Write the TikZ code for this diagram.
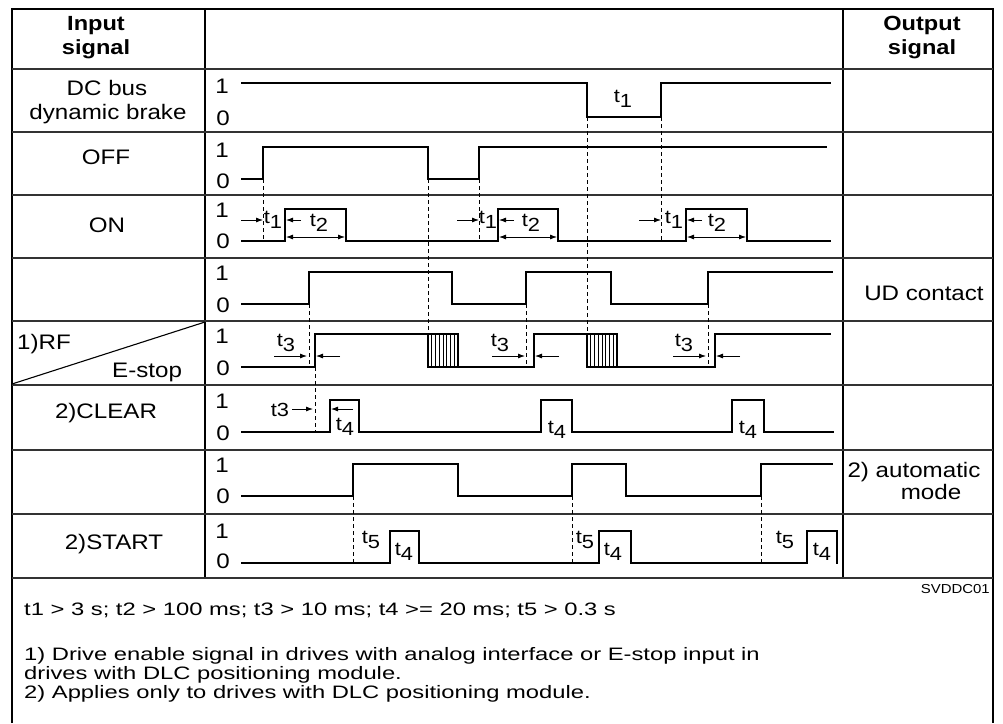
\documentclass[tikz,border=0pt]{standalone}
\usepackage{fontspec}
\setmainfont{Liberation Sans}[FakeStretch=1.15]
\newfontfamily\notefont{Liberation Sans}[FakeStretch=1.32]
\usetikzlibrary{arrows.meta}
\newcommand{\tsub}[2]{t\raisebox{-5pt}{#1}}
\begin{document}
\begin{tikzpicture}[x=1pt,y=-1pt,
  frame/.style={line width=2.5pt},
  rowline/.style={line width=1.5pt, black!80},
  sig/.style={line width=2.4pt, line join=miter, line cap=rect},
  guide/.style={line width=0.9pt, dash pattern=on 4pt off 3pt},
  hatch/.style={line width=0.9pt},
  tarrow/.style={line width=0.8pt, -{Latex[length=7pt,width=5pt]}},
  tdarrow/.style={line width=0.8pt, {Latex[length=7pt,width=5pt]}-{Latex[length=7pt,width=5pt]}},
  lbl/.style={font=\fontsize{21}{24}\selectfont, inner sep=0pt, anchor=base},
  hdr/.style={font=\bfseries\fontsize{20.5}{23}\selectfont, inner sep=0pt, anchor=base},
  lvl/.style={font=\fontsize{21}{24}\selectfont, inner sep=0pt, anchor=base},
  tlab/.style={font=\fontsize{19}{20}\selectfont, inner sep=0pt},
  note/.style={font=\notefont\fontsize{18}{19.5}\selectfont, inner sep=0pt, anchor=base west},
  code/.style={font=\fontsize{13}{15}\selectfont, inner sep=0pt, anchor=base east}]
\useasboundingbox (0,0) rectangle (1003,723);
% frame and grid
\draw[frame] (12,723) -- (12,9) -- (993,9) -- (993,723);
\draw[frame] (205,9) -- (205,578);
\draw[frame] (843,9) -- (843,578);
\foreach \yy in {69,132,195,258,321,385,450,514}
  \draw[rowline] (12,\yy) -- (993,\yy);
\draw[rowline] (12,578) -- (993,578);
\draw[line width=1.1pt] (12,384) -- (205,322);
% headers
\node[hdr] (h1a) at (96,30) {Input};
\node[hdr] (h1b) at (96,54) {signal};
\node[hdr] (h2a) at (922,30) {Output};
\node[hdr] (h2b) at (922,54) {signal};
% left labels
\node[lbl] (ldc1) at (107,95) {DC bus};
\node[lbl] (ldc2) at (108,119) {dynamic brake};
\node[lbl] (loff) at (106,164) {OFF};
\node[lbl] (lon) at (107,232) {ON};
\node[lbl, anchor=base west] (lrf) at (17,349) {1)RF};
\node[lbl, anchor=base west] (lestop) at (112,377) {E-stop};
\node[lbl] (lclear) at (106,418) {2)CLEAR};
\node[lbl] (lstart) at (114,549) {2)START};
% right labels
\node[lbl] (lud) at (924,300) {UD contact};
\node[lbl] (lauto) at (914,477) {2) automatic};
\node[lbl] (lmode) at (931,499) {mode};
% level labels
\foreach \a/\b [count=\i] in {93/125,157/188,217/248,280/312,343/375,408/440,472/503,538/568}{
  \node[lvl] (one\i) at (222,\a) {1};
  \node[lvl] (zero\i) at (223,\b) {0};
}
% dashed guides
\draw[guide] (587,117) -- (587,334);
\draw[guide] (661,117) -- (661,241);
\draw[guide] (263,179) -- (263,241);
\draw[guide] (428,179) -- (428,334);
\draw[guide] (479,179) -- (479,241);
\draw[guide] (309,304) -- (309,367);
\draw[guide] (526,304) -- (526,367);
\draw[guide] (708,304) -- (708,367);
\draw[guide] (315,367) -- (315,432);
\draw[guide] (353,496) -- (353,563);
\draw[guide] (572,496) -- (572,563);
\draw[guide] (761,496) -- (761,563);
% signals
\draw[sig] (242,83) -- (587,83) -- (587,117) -- (661,117) -- (661,83) -- (830,83);
\draw[sig] (242,179) -- (263,179) -- (263,147) -- (428,147) -- (428,179) -- (479,179) -- (479,147) -- (826,147);
\draw[sig] (242,241) -- (285,241) -- (285,209) -- (346,209) -- (346,241) -- (498,241) -- (498,209) -- (558,209) -- (558,241) -- (686,241) -- (686,209) -- (747,209) -- (747,241) -- (830,241);
\draw[sig] (242,304) -- (309,304) -- (309,272) -- (452,272) -- (452,304) -- (526,304) -- (526,272) -- (611,272) -- (611,304) -- (708,304) -- (708,272) -- (832,272);
\draw[sig] (242,367) -- (315,367) -- (315,334) -- (458,334) -- (458,367) -- (534,367) -- (534,334) -- (617,334) -- (617,367) -- (715,367) -- (715,334) -- (830,334);
\draw[sig] (428,334) -- (428,367) -- (458,367);
\draw[sig] (587,334) -- (587,367) -- (617,367);
\foreach \k in {1,...,7}{
  \draw[hatch] (428+3.75*\k,334) -- (428+3.75*\k,367);
  \draw[hatch] (587+3.75*\k,334) -- (587+3.75*\k,367);
}
\draw[sig] (242,432) -- (330,432) -- (330,400) -- (359,400) -- (359,432) -- (541,432) -- (541,400) -- (572,400) -- (572,432) -- (732,432) -- (732,400) -- (764,400) -- (764,432) -- (833,432);
\draw[sig] (242,496) -- (353,496) -- (353,464) -- (458,464) -- (458,496) -- (572,496) -- (572,464) -- (626,464) -- (626,496) -- (761,496) -- (761,464) -- (832,464);
\draw[sig] (242,563) -- (390,563) -- (390,531) -- (419,531) -- (419,563) -- (599,563) -- (599,531) -- (631,531) -- (631,563) -- (807,563) -- (807,531) -- (837,531) -- (837,563);
% DC label
\node[tlab] (dct1) at (623,99) {\tsub{1}{}};
% ON arrows and labels
\foreach \d/\r/\f/\la/\lb/\i in {263/285/346/273/319/1, 479/498/558/488/531/2, 661/686/747/674/717/3}{
  \coordinate (ona\i) at (\d-22,220);
  \coordinate (onb\i) at (\d,220);
  \draw[tarrow] (ona\i) -- (onb\i);
  \coordinate (onc\i) at (\r+16,220);
  \coordinate (ond\i) at (\r+1,220);
  \draw[tarrow] (onc\i) -- (ond\i);
  \coordinate (one\i) at (\r+1,237);
  \coordinate (onf\i) at (\f-1,237);
  \draw[tdarrow] (one\i) -- (onf\i);
  \node[tlab] (ont1\i) at (\la,220) {\tsub{1}{}};
  \node[tlab] (ont2\i) at (\lb,223) {\tsub{2}{}};
}
% RF arrows and labels
\foreach \d/\r/\la/\i in {307/316/286/1, 525/535/500/2, 706/716/684/3}{
  \coordinate (rfa\i) at (\d-33,356);
  \coordinate (rfb\i) at (\d,356);
  \draw[tarrow] (rfa\i) -- (rfb\i);
  \coordinate (rfc\i) at (\r+24,356);
  \coordinate (rfd\i) at (\r,356);
  \draw[tarrow] (rfc\i) -- (rfd\i);
  \node[tlab] (rft\i) at (\la,343) {\tsub{3}{}};
}
% CLEAR arrows and labels
\coordinate (cla) at (292,409);
\coordinate (clb) at (313,409);
\draw[tarrow] (cla) -- (clb);
\coordinate (clc) at (353,409);
\coordinate (cld) at (331,409);
\draw[tarrow] (clc) -- (cld);
\node[tlab] (clt3) at (280,410) {t3};
\node[tlab] (clt41) at (345,427) {\tsub{4}{}};
\node[tlab] (clt42) at (557,430) {\tsub{4}{}};
\node[tlab] (clt43) at (748,430) {\tsub{4}{}};
% START labels
\node[tlab] (st51) at (371,540) {\tsub{5}{}};
\node[tlab] (st52) at (585,540) {\tsub{5}{}};
\node[tlab] (st53) at (785,540) {\tsub{5}{}};
\node[tlab] (st41) at (404,552) {\tsub{4}{}};
\node[tlab] (st42) at (613,552) {\tsub{4}{}};
\node[tlab] (st43) at (822,552) {\tsub{4}{}};
% notes
\node[code] (svd) at (990,593) {SVDDC01};
\node[note] (n0) at (24,615) {t1 > 3 s; t2 > 100 ms; t3 > 10 ms; t4 >= 20 ms; t5 > 0.3 s};
\node[note] (n1) at (24,660) {1) Drive enable signal in drives with analog interface or E-stop input in};
\node[note] (n2) at (24,679) {drives with DLC positioning module.};
\node[note] (n3) at (24,698) {2) Applies only to drives with DLC positioning module.};
\end{tikzpicture}
\end{document}
